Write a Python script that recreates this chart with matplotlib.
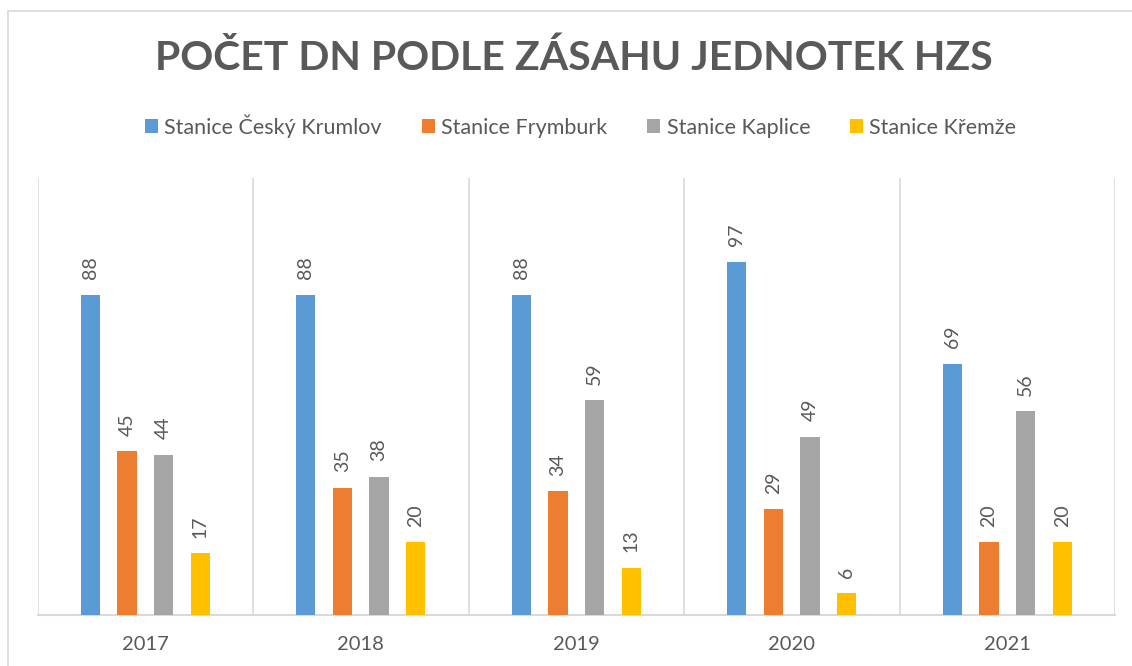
import matplotlib
matplotlib.use("Agg")
import matplotlib.pyplot as plt
from matplotlib.patches import Rectangle, Patch
import numpy as np

plt.rcParams["font.family"] = ["Lato", "DejaVu Sans"]

# ====================== data ======================
years = ["2017", "2018", "2019", "2020", "2021"]
series_names = ["Stanice Český Krumlov", "Stanice Frymburk", "Stanice Kaplice", "Stanice Křemže"]
krumlov = [88, 88, 88, 97, 69]
frymburk = [45, 35, 34, 29, 20]
kaplice = [44, 38, 59, 49, 56]
kremze = [17, 20, 13, 6, 20]
colors = ["#5b9bd5", "#ed7d31", "#a5a5a5", "#ffc000"]
title = "POČET DN PODLE ZÁSAHU JEDNOTEK HZS"
# ===================================================

TXT = "#595959"
GRID = "#d9d9d9"

fig = plt.figure(figsize=(11.32, 6.66), dpi=100)

# outer chart border (cut off at right/bottom like the screenshot)
fig.patches.append(Rectangle((8 / 1132, -0.1), 1.2, 1.1 - 11 / 666,
                             transform=fig.transFigure, fill=False,
                             edgecolor=GRID, linewidth=1.2))

ax = fig.add_axes([37.5 / 1132, 51 / 666, (1115 - 37.5) / 1132, 437 / 666])

x = np.arange(len(years))
pitch = 0.17
width = 0.09
all_series = [krumlov, frymburk, kaplice, kremze]
for i, vals in enumerate(all_series):
    pos = x + (i - 1.5) * pitch
    bars = ax.bar(pos, vals, width=width, color=colors[i], zorder=3)
    for b, v in zip(bars, vals):
        ax.annotate(str(v), (b.get_x() + b.get_width() / 2, v),
                    xytext=(0, 11), textcoords="offset points",
                    rotation=90, ha="center", va="bottom",
                    fontsize=14, color=TXT)

ax.set_xlim(-0.5, len(years) - 0.5)
ax.set_ylim(0, 120)
for b in np.arange(-0.5, len(years), 1.0):
    ax.axvline(b, color=GRID, linewidth=1.2, zorder=1)

for s in ["top", "right", "left"]:
    ax.spines[s].set_visible(False)
ax.spines["bottom"].set_color(GRID)
ax.spines["bottom"].set_linewidth(1.5)
ax.set_yticks([])
ax.set_xticks(x)
ax.set_xticklabels(years, fontsize=14.5, color=TXT)
ax.tick_params(axis="x", length=0, pad=15)

fig.text(0.5 + 8 / 1132, 1 - 58 / 666, title, ha="center", va="center",
         fontsize=29.5, fontweight="bold", color=TXT)

handles = [Patch(facecolor=c) for c in colors]
fig.legend(handles, series_names, loc="center", bbox_to_anchor=(0.513, 1 - 126 / 666),
           ncol=4, frameon=False, fontsize=15.5, labelcolor=TXT,
           handlelength=0.6, handleheight=0.6, handletextpad=0.3, columnspacing=1.85)

fig.savefig("out.png", dpi=100)
